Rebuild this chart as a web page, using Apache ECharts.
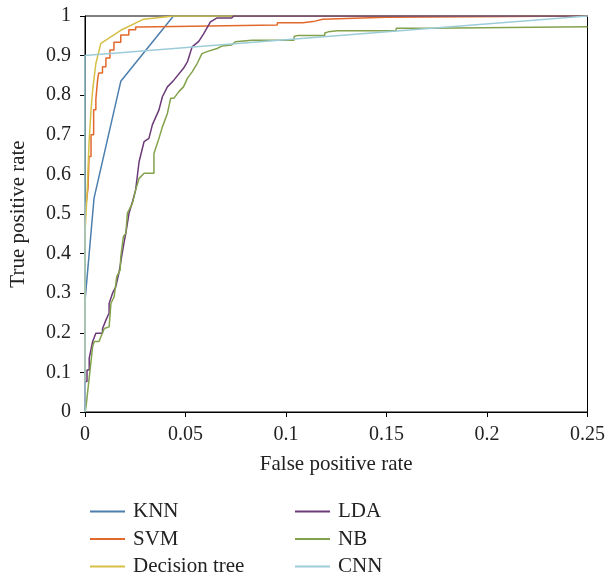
<!DOCTYPE html>
<html>
<head>
<meta charset="utf-8">
<script src="https://cdn.jsdelivr.net/npm/echarts@6/dist/echarts.min.js"></script>
<style>html,body{margin:0;padding:0;background:#fff}#c{width:608px;height:576px}</style>
</head>
<body>
<div id="c"></div>
<script>
var seriesNames = ['KNN', 'SVM', 'Decision tree', 'LDA', 'NB', 'CNN'];
var xTicks = [0, 0.05, 0.1, 0.15, 0.2, 0.25];
var yTicks = [0, 0.1, 0.2, 0.3, 0.4, 0.5, 0.6, 0.7, 0.8, 0.9, 1];

var knn = [[0,0],[0,0.28],[0.0045,0.54],[0.0178,0.835],[0.044,1],[0.25,1]];
var svm = [[0,0],[0,0.5],[0.0015,0.565],[0.002,0.565],[0.002,0.645],[0.003,0.645],[0.003,0.70],[0.0043,0.70],[0.0043,0.763],[0.0054,0.763],[0.0054,0.79],[0.0063,0.79],[0.0063,0.84],[0.0068,0.84],[0.0068,0.856],[0.0087,0.856],[0.0087,0.872],[0.0104,0.872],[0.0104,0.894],[0.0124,0.894],[0.0124,0.914],[0.0144,0.914],[0.0144,0.934],[0.0178,0.934],[0.0178,0.952],[0.0218,0.952],[0.0218,0.965],[0.0252,0.965],[0.0252,0.972],[0.0272,0.972],[0.0272,0.977],[0.0957,0.977],[0.0957,0.983],[0.1084,0.983],[0.1084,0.987],[0.1144,0.987],[0.1144,0.992],[0.1182,0.992],[0.1182,0.997],[0.1498,0.997],[0.1498,1],[0.25,1]];
var dtree = [[0,0],[0,0.45],[0.0012,0.57],[0.002,0.68],[0.003,0.763],[0.0038,0.813],[0.0054,0.88],[0.0079,0.931],[0.0178,0.964],[0.0292,0.992],[0.044,1],[0.25,1]];
var lda = [[0,0],[0,0.077],[0.001,0.077],[0.001,0.106],[0.0021,0.106],[0.0021,0.136],[0.003,0.136],[0.0038,0.178],[0.0046,0.178],[0.0054,0.199],[0.0087,0.199],[0.0087,0.21],[0.0104,0.232],[0.012,0.25],[0.012,0.274],[0.0137,0.30],[0.0153,0.316],[0.017,0.354],[0.0182,0.392],[0.0195,0.43],[0.0203,0.451],[0.0219,0.502],[0.0236,0.531],[0.0252,0.561],[0.0269,0.632],[0.0294,0.683],[0.0318,0.691],[0.0335,0.725],[0.0368,0.763],[0.0385,0.796],[0.041,0.821],[0.0442,0.838],[0.049,0.868],[0.051,0.885],[0.0533,0.922],[0.0566,0.936],[0.059,0.955],[0.0624,0.985],[0.0657,0.995],[0.073,0.995],[0.074,1],[0.25,1]];
var nb = [[0,0],[0.0005,0.013],[0.0038,0.165],[0.0046,0.178],[0.007,0.178],[0.0079,0.19],[0.0096,0.211],[0.012,0.215],[0.0129,0.274],[0.0145,0.291],[0.0158,0.342],[0.0175,0.359],[0.0178,0.392],[0.0191,0.443],[0.0203,0.451],[0.0211,0.502],[0.0236,0.527],[0.0252,0.561],[0.0269,0.59],[0.0294,0.603],[0.0343,0.603],[0.0343,0.653],[0.0368,0.691],[0.0385,0.72],[0.041,0.754],[0.0426,0.792],[0.0442,0.792],[0.0467,0.809],[0.049,0.821],[0.051,0.843],[0.0533,0.859],[0.0558,0.88],[0.0582,0.905],[0.0607,0.91],[0.0657,0.918],[0.0681,0.924],[0.073,0.927],[0.0748,0.935],[0.083,0.939],[0.104,0.939],[0.104,0.948],[0.106,0.951],[0.1193,0.951],[0.1193,0.957],[0.121,0.96],[0.1256,0.963],[0.1548,0.963],[0.1548,0.969],[0.1713,0.969],[0.1713,0.973],[0.25,0.973]];
var cnn = [[0,0],[0,0.9],[0.25,1]];

var colors = ['#4d7fae', '#e2692c', '#d6bf45', '#6c3a78', '#82a24b', '#9dccd9'];
var allData = [knn, svm, dtree, lda, nb, cnn];

var font = '"Liberation Serif", "DejaVu Serif", serif';
var chart = echarts.init(document.getElementById('c'), null, {renderer: 'canvas'});
var series = seriesNames.map(function (n, i) {
  return {
    name: n, type: 'line', data: allData[i], symbol: 'none',
    lineStyle: {color: colors[i], width: 1.5}, itemStyle: {color: colors[i]},
    animation: false, z: 2 + i
  };
});
var legendText = {fontFamily: font, fontSize: 21, color: '#222', padding: [0, 0, 0, 3]};
var legendCommon = {orient: 'vertical', top: 496, height: 100,
  itemWidth: 35, itemHeight: 2, itemGap: 6.5, icon: 'rect', textStyle: legendText};
chart.setOption({
  animation: false,
  backgroundColor: '#fff',
  grid: {left: 84, right: 19, top: 16, bottom: 164, show: true, borderColor: '#000', borderWidth: 1},
  xAxis: {
    type: 'value', min: 0, max: 0.25, interval: 0.05,
    name: 'False positive rate', nameLocation: 'middle', nameGap: 42,
    nameTextStyle: {fontFamily: font, fontSize: 21, color: '#222'},
    axisLine: {lineStyle: {color: '#000', width: 1}},
    axisTick: {show: true, inside: false, length: 5, lineStyle: {color: '#000'}},
    axisLabel: {fontFamily: font, fontSize: 20, color: '#222', margin: 13,
      formatter: function (v) { return String(xTicks[Math.round(v / 0.05)]); }},
    splitLine: {show: false}
  },
  yAxis: {
    type: 'value', min: 0, max: 1, interval: 0.1,
    name: 'True positive rate', nameLocation: 'middle', nameGap: 56, nameRotate: 90,
    nameTextStyle: {fontFamily: font, fontSize: 21, color: '#222'},
    axisLine: {lineStyle: {color: '#000', width: 1}},
    axisTick: {show: true, inside: false, length: 5, lineStyle: {color: '#000'}},
    axisLabel: {fontFamily: font, fontSize: 20, color: '#222', margin: 14,
      formatter: function (v) { return String(yTicks[Math.round(v * 10)]); }},
    splitLine: {show: false}
  },
  legend: [
    Object.assign({data: seriesNames.slice(0, 3), left: 85}, legendCommon),
    Object.assign({data: seriesNames.slice(3), left: 290}, legendCommon)
  ],
  series: series
});
</script>
</body>
</html>
